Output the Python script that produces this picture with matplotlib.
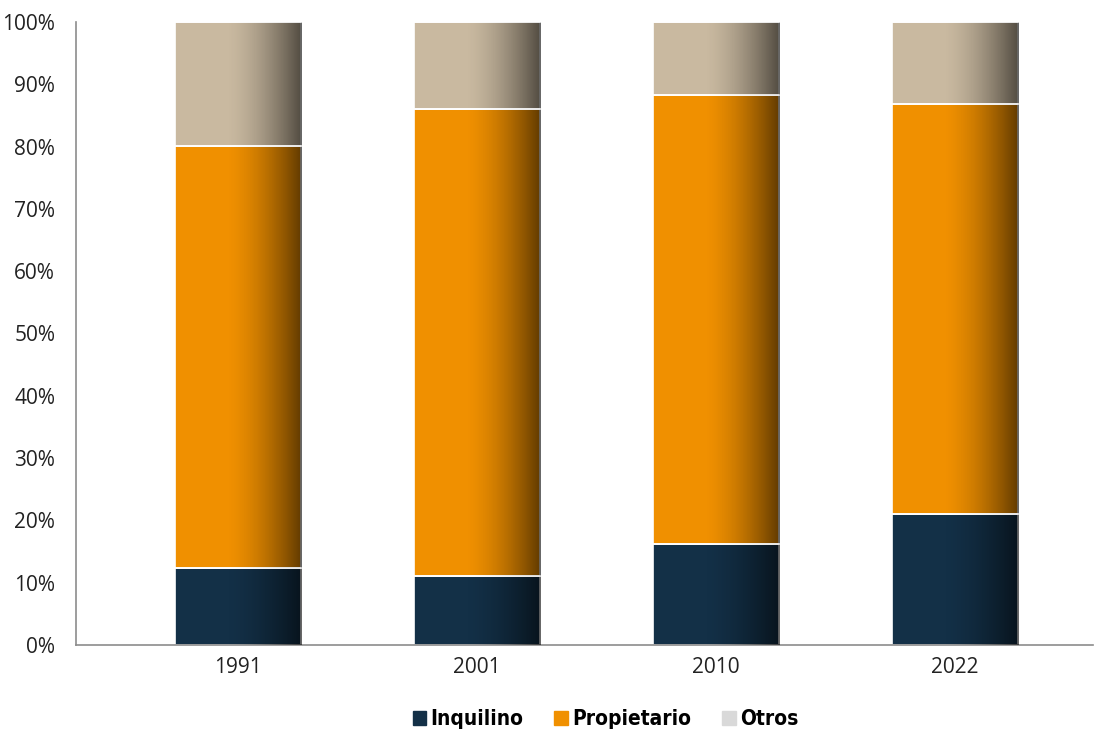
import matplotlib.pyplot as plt
import numpy as np
from matplotlib.patches import Patch
from matplotlib.ticker import PercentFormatter

anios = ['1991', '2001', '2010', '2022']
inquilino = [12.4, 11.1, 16.2, 21.0]
propietario = [67.7, 74.9, 72.1, 65.8]
otros = [19.9, 14.0, 11.7, 13.2]

c_inq = '#133047'
c_prop = '#F09000'
c_otros = '#C9B9A0'

fig = plt.figure(figsize=(10.95, 7.34), dpi=100)
ax = fig.add_axes([0.0694, 0.1213, 0.9286, 0.8487])

x = np.arange(len(anios))
ancho = 0.53
inq = np.array(inquilino)
prop = np.array(propietario)
otr = np.array(otros)

barras = []
barras += ax.bar(x, inq, ancho, color=c_inq, edgecolor='white', linewidth=1.2, zorder=2)
barras += ax.bar(x, prop, ancho, bottom=inq, color=c_prop, edgecolor='white', linewidth=1.2, zorder=2)
barras += ax.bar(x, otr, ancho, bottom=inq + prop, color=c_otros, edgecolor='white', linewidth=1.2, zorder=2)

# sombreado hacia la derecha de cada barra
grad = np.zeros((1, 300, 4))
t = np.linspace(0, 1, 300)
grad[0, :, 3] = np.clip((t - 0.4) / 0.6, 0, 1) ** 1.6 * 0.6
for b in barras:
    x0, y0 = b.get_x(), b.get_y()
    ax.imshow(grad, extent=(x0, x0 + b.get_width(), y0, y0 + b.get_height()),
              aspect='auto', zorder=3, interpolation='bilinear')
    ax.plot([x0, x0 + b.get_width()], [y0 + b.get_height()] * 2, color='white', lw=1.2, zorder=4)

ax.set_xlim(-0.678, 3.577)
ax.set_ylim(0, 100)
ax.set_xticks(x)
ax.set_xticklabels(anios, fontsize=15, family='Open Sans', color='#222222')
ax.set_yticks(np.arange(0, 101, 10))
ax.yaxis.set_major_formatter(PercentFormatter(decimals=0))
for lab in ax.get_yticklabels():
    lab.set_fontsize(15)
    lab.set_family('Open Sans')
    lab.set_color('#222222')
ax.tick_params(axis='both', length=0)
ax.tick_params(axis='x', pad=9)
ax.tick_params(axis='y', pad=15)
for s in ['top', 'right']:
    ax.spines[s].set_visible(False)
ax.spines['left'].set_color('#8C8C8C')
ax.spines['bottom'].set_color('#8C8C8C')
ax.spines['left'].set_linewidth(1.2)
ax.spines['bottom'].set_linewidth(1.2)

handles = [Patch(color=c_inq, label='Inquilino'),
           Patch(color='#F09000', label='Propietario'),
           Patch(color='#D9D9D9', label='Otros')]
fig.legend(handles=handles, loc='center', ncol=3, frameon=False,
           bbox_to_anchor=(0.553, 0.020), handlelength=0.65, handleheight=0.65,
           handletextpad=0.2, columnspacing=1.5,
           prop={'family': 'DejaVu Sans', 'stretch': 'condensed', 'weight': 'bold', 'size': 15})

fig.savefig('out.png', dpi=100)
